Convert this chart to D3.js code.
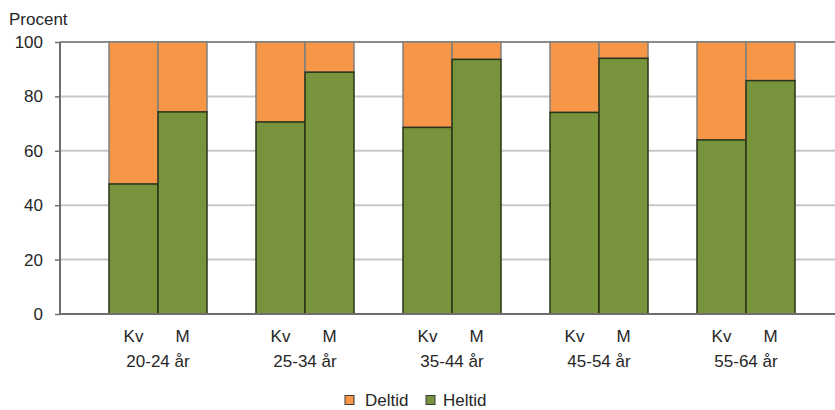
<!DOCTYPE html>
<html><head><meta charset="utf-8">
<script src="https://cdn.jsdelivr.net/npm/d3@7"></script>
<style>body{margin:0;background:#fff}svg{display:block;font-family:"Liberation Sans",Arial,sans-serif}</style>
</head><body><svg id="c" width="835" height="410"></svg>
<script>
const groups = ["20-24 år","25-34 år","35-44 år","45-54 år","55-64 år"];
const sexes = ["Kv","M"];
const heltidKv = [47.8, 70.6, 68.6, 74.1, 64.0];
const heltidM  = [74.3, 88.9, 93.6, 94.0, 85.8];
const yTicks = [0,20,40,60,80,100];
const seriesNames = ["Deltid","Heltid"];
const colors = {Deltid:"#F79646", Heltid:"#77933C"};

const FS = 17;
const TXT = "#262626";
const svg = d3.select("#c");
const y = d3.scaleLinear().domain([0,100]).range([314,42]);
const xg = d3.scalePoint().domain(groups).range([158,746]);
const xs = d3.scaleBand().domain(sexes).range([-49,49]).padding(0);

// gridlines
svg.append("g").selectAll("line").data(yTicks.filter(d=>d>0)).join("line")
  .attr("x1",60).attr("x2",835).attr("y1",d=>y(d)).attr("y2",d=>y(d))
  .attr("stroke",d=>d===100?"#8c8c8c":"#c8c8c8").attr("stroke-width",2);

const rows = [];
groups.forEach((g,i)=>{
  [["Kv",heltidKv[i]],["M",heltidM[i]]].forEach(([s,v])=>{
    rows.push({g,s,key:"Heltid",y0:0,y1:v});
    rows.push({g,s,key:"Deltid",y0:v,y1:100});
  });
});
svg.append("g").selectAll("rect").data(rows.filter(r=>r.key==="Deltid")).join("rect")
  .attr("x",d=>xg(d.g)+xs(d.s)).attr("width",xs.bandwidth())
  .attr("y",d=>y(d.y1)).attr("height",d=>y(d.y0)-y(d.y1))
  .attr("fill",colors.Deltid).attr("stroke","#7f7f7f").attr("stroke-width",1.5);
svg.append("g").selectAll("rect").data(rows.filter(r=>r.key==="Heltid")).join("rect")
  .attr("x",d=>xg(d.g)+xs(d.s)).attr("width",xs.bandwidth())
  .attr("y",d=>y(d.y1)).attr("height",d=>y(d.y0)-y(d.y1))
  .attr("fill",colors.Heltid).attr("stroke","#2b3318").attr("stroke-width",1.5);

// axes
const ya = svg.append("g").attr("transform","translate(60,0)")
  .call(d3.axisLeft(y).tickValues(yTicks).tickSize(5).tickPadding(12));
ya.select(".domain").attr("stroke","#6e6e6e").attr("stroke-width",2).attr("d","M0,42V314");
ya.selectAll(".tick line").attr("stroke","#6e6e6e").attr("stroke-width",1.5);
ya.selectAll("text").attr("font-size",FS).attr("fill",TXT).attr("font-family","Liberation Sans, Arial, sans-serif");
svg.append("line").attr("x1",59).attr("x2",835).attr("y1",y(0)).attr("y2",y(0))
  .attr("stroke","#6e6e6e").attr("stroke-width",2);

svg.append("text").attr("x",9).attr("y",25).attr("font-size",FS).attr("fill",TXT).text("Procent");

// category labels
const lab = svg.append("g").attr("font-size",FS).attr("fill",TXT).attr("text-anchor","middle");
groups.forEach(g=>{
  sexes.forEach(s=>{
    lab.append("text").attr("x",xg(g)+xs(s)+xs.bandwidth()/2).attr("y",342).text(s);
  });
  lab.append("text").attr("x",xg(g)).attr("y",367).text(g);
});

// legend
const lg = svg.append("g");
const legX = [345, 426];
seriesNames.forEach((n,i)=>{
  lg.append("rect").attr("x",legX[i]).attr("y",395.5).attr("width",9).attr("height",9)
    .attr("fill",colors[n]).attr("stroke","#3a3a3a").attr("stroke-width",1);
  lg.append("text").attr("x",legX[i]+(i===0?20:17)).attr("y",406).attr("font-size",FS).attr("fill",TXT).text(n);
});
</script></body></html>
